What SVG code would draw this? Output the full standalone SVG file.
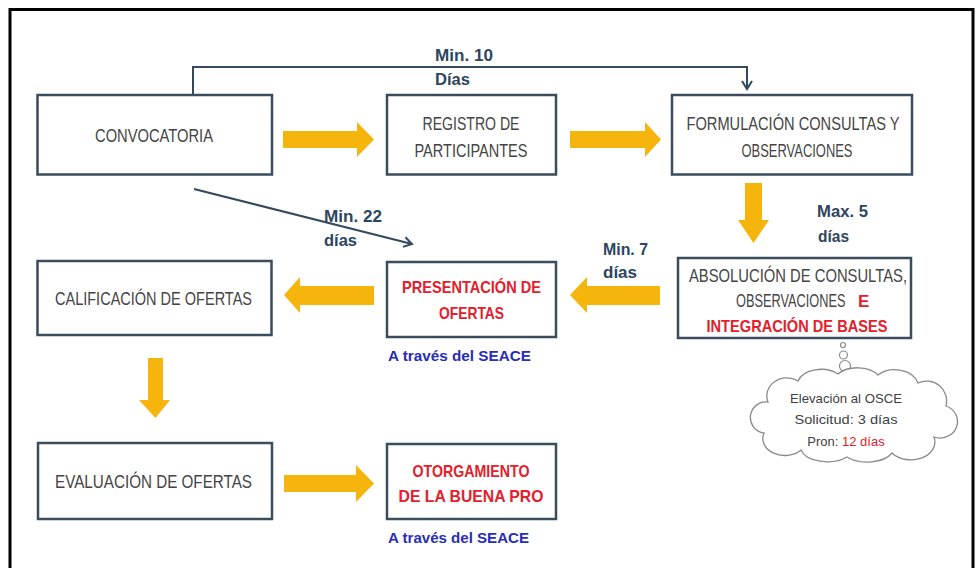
<svg xmlns="http://www.w3.org/2000/svg" width="976" height="568" viewBox="0 0 976 568">
<defs>
<style>
.box{fill:#ffffff;stroke:#3b4c5c;stroke-width:2.5}
.t{font-family:"Liberation Sans",Arial,sans-serif;font-size:18px;fill:#444444;text-anchor:middle}
.tl{font-family:"Liberation Sans",Arial,sans-serif;font-size:18px;fill:#444444}
.r{font-family:"Liberation Sans",Arial,sans-serif;font-size:17px;font-weight:bold;fill:#e3202b;text-anchor:middle}
.rl{font-family:"Liberation Sans",Arial,sans-serif;font-size:17px;font-weight:bold;fill:#e3202b}
.lab{font-family:"Liberation Sans",Arial,sans-serif;font-size:16px;font-weight:bold;fill:#2d4560}
.seace{font-family:"Liberation Sans",Arial,sans-serif;font-size:15px;font-weight:bold;fill:#2a2db5}
.cl{font-family:"Liberation Sans",Arial,sans-serif;font-size:13px;fill:#404040;text-anchor:middle}
.conn{fill:none;stroke:#34495e;stroke-width:2}
.oa{fill:#f5b50c}
</style>
<marker id="chev" viewBox="0 0 12 12" refX="10" refY="6" markerWidth="12" markerHeight="12" markerUnits="userSpaceOnUse" orient="auto">
<path d="M2,1 L10,6 L2,11" fill="none" stroke="#34495e" stroke-width="2"/>
</marker>
</defs>
<rect width="976" height="568" fill="#ffffff"/>
<path d="M10,570 V9.5 H973 V570" fill="none" stroke="#000000" stroke-width="3"/>

<g id="connectors">
<polyline class="conn" points="193,95 193,67 747,67 747,89" marker-end="url(#chev)"/>
<line class="conn" x1="194" y1="189" x2="412" y2="244" marker-end="url(#chev)"/>
<polygon class="oa" points="283,131 357,131 357,122 374,139.5 357,157 357,148 283,148"/>
<polygon class="oa" points="570,131 645,131 645,122 661,139.5 645,157 645,148 570,148"/>
<polygon class="oa" points="745,183 762,183 762,220 769,220 753.5,243 738,220 745,220"/>
<polygon class="oa" points="660,286 587,286 587,277 570,295 587,313 587,305 660,305"/>
<polygon class="oa" points="374,286 300,286 300,277 284,295 300,313 300,305 374,305"/>
<polygon class="oa" points="148,358 163,358 163,400 170,400 155.5,418 139,400 148,400"/>
<polygon class="oa" points="284,475 356,475 356,465 374,483.5 356,502 356,492 284,492"/>
<text class="lab" x="435" y="61" textLength="58" lengthAdjust="spacingAndGlyphs">Min. 10</text>
<text class="lab" x="435" y="85" textLength="35" lengthAdjust="spacingAndGlyphs">Días</text>
<text class="lab" x="324" y="222" textLength="58" lengthAdjust="spacingAndGlyphs">Min. 22</text>
<text class="lab" x="324" y="246" textLength="33" lengthAdjust="spacingAndGlyphs">días</text>
<text class="lab" x="817" y="217" textLength="51" lengthAdjust="spacingAndGlyphs">Max. 5</text>
<text class="lab" x="818" y="242" textLength="31" lengthAdjust="spacingAndGlyphs">días</text>
<text class="lab" x="603" y="255" textLength="45" lengthAdjust="spacingAndGlyphs">Min. 7</text>
<text class="lab" x="603" y="278" textLength="34" lengthAdjust="spacingAndGlyphs">días</text>
</g>

<g id="convocatoria">
<rect class="box" x="37.5" y="95" width="234.5" height="79.5"/>
<text class="t" x="154" y="142" textLength="118" lengthAdjust="spacingAndGlyphs">CONVOCATORIA</text>
</g>
<g id="registro">
<rect class="box" x="387" y="95" width="169" height="79.5"/>
<text class="t" x="471" y="130" textLength="97" lengthAdjust="spacingAndGlyphs">REGISTRO DE</text>
<text class="t" x="471" y="157" textLength="113" lengthAdjust="spacingAndGlyphs">PARTICIPANTES</text>
</g>
<g id="formulacion">
<rect class="box" x="672" y="95" width="240" height="79.5"/>
<text class="t" x="793" y="130" textLength="213" lengthAdjust="spacingAndGlyphs">FORMULACIÓN CONSULTAS Y</text>
<text class="t" x="797" y="157" textLength="111" lengthAdjust="spacingAndGlyphs">OBSERVACIONES</text>
</g>
<g id="absolucion">
<rect class="box" x="678" y="258" width="233" height="80"/>
<text class="t" x="798" y="282" textLength="218" lengthAdjust="spacingAndGlyphs">ABSOLUCIÓN DE CONSULTAS,</text>
<text class="tl" transform="matrix(0.71 0 0 1 736 307)" x="0" y="0">OBSERVACIONES</text>
<text class="rl" x="858" y="307">E</text>
<text class="r" x="797" y="332" textLength="181" lengthAdjust="spacingAndGlyphs">INTEGRACIÓN DE BASES</text>
</g>
<g id="presentacion">
<rect class="box" x="387" y="262" width="169" height="75"/>
<text class="r" x="471.5" y="293" textLength="139" lengthAdjust="spacingAndGlyphs">PRESENTACIÓN DE</text>
<text class="r" x="471.5" y="319" textLength="65" lengthAdjust="spacingAndGlyphs">OFERTAS</text>
<text class="seace" x="388" y="361" textLength="143" lengthAdjust="spacingAndGlyphs">A través del SEACE</text>
</g>
<g id="calificacion">
<rect class="box" x="37.5" y="261" width="234" height="74"/>
<text class="t" x="153.5" y="305" textLength="197" lengthAdjust="spacingAndGlyphs">CALIFICACIÓN DE OFERTAS</text>
</g>
<g id="evaluacion">
<rect class="box" x="38" y="443" width="234" height="76"/>
<text class="t" x="153.5" y="488" textLength="197" lengthAdjust="spacingAndGlyphs">EVALUACIÓN DE OFERTAS</text>
</g>
<g id="otorgamiento">
<rect class="box" x="387" y="444" width="169" height="75"/>
<text class="r" x="471" y="477" textLength="117" lengthAdjust="spacingAndGlyphs">OTORGAMIENTO</text>
<text class="r" x="471" y="502" textLength="145" lengthAdjust="spacingAndGlyphs">DE LA BUENA PRO</text>
<text class="seace" x="388" y="543" textLength="141" lengthAdjust="spacingAndGlyphs">A través del SEACE</text>
</g>
<g id="nube">
<circle cx="843" cy="345" r="2.5" fill="#ffffff" stroke="#8a8a8a" stroke-width="1.2"/>
<circle cx="843.5" cy="355" r="4" fill="#ffffff" stroke="#8a8a8a" stroke-width="1.2"/>
<circle cx="845" cy="366" r="5.5" fill="#ffffff" stroke="#8a8a8a" stroke-width="1.2"/>
<path d="M768,402 A20,18 0 0 1 798,381 A24,16 0 0 1 838,374 A24,15 0 0 1 878,375 A24,18 0 0 1 918,383 A20,20 0 0 1 946,406 A17,16 0 0 1 934,437 A24,18 0 0 1 892,453 A27,15 0 0 1 847,457 A27,15 0 0 1 801,450 A22,17 0 0 1 764,433 A14,14 0 0 1 768,402 Z" fill="#ffffff" stroke="#8a8a8a" stroke-width="1.3"/>
<text class="cl" x="846" y="403" textLength="112" lengthAdjust="spacingAndGlyphs">Elevación al OSCE</text>
<text class="cl" x="846" y="424" textLength="103" lengthAdjust="spacingAndGlyphs">Solicitud: 3 días</text>
<text class="cl" x="846" y="446"><tspan>Pron: </tspan><tspan fill="#e3202b">12 días</tspan></text>
</g>
</svg>
